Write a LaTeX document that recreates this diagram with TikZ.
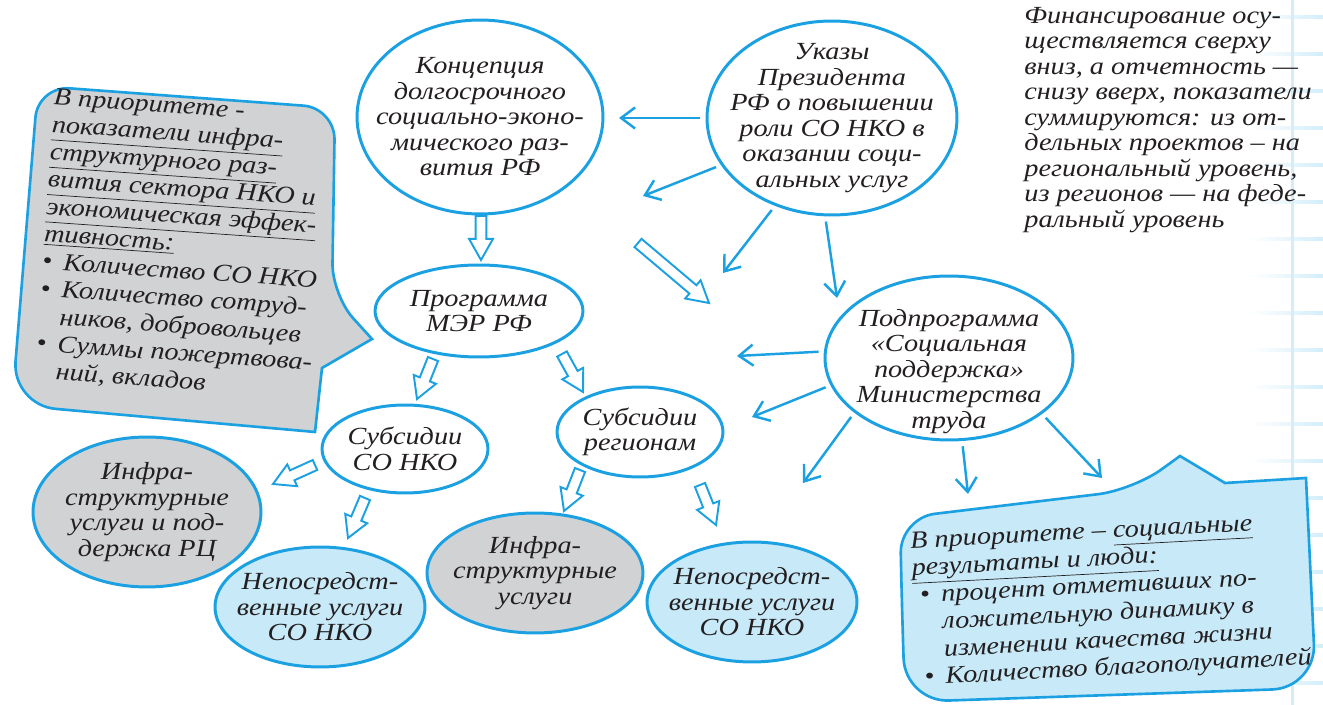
\documentclass[tikz,border=0pt]{standalone}
\usepackage{fontspec}
\setmainfont{Liberation Serif}[FakeStretch=1.15]
\usetikzlibrary{arrows.meta, shapes.geometric, calc}
\definecolor{linecyan}{HTML}{1BA1E2}
\definecolor{gridcyan}{HTML}{D3EEFA}
\definecolor{bubblegrey}{HTML}{D1D2D4}
\definecolor{bubbleblue}{HTML}{C8E9F8}
\definecolor{inkblack}{HTML}{231F20}
\newcommand\bulletrow{\makebox[12pt][l]{\textbullet}}
\newcommand\bulletgap{\hspace*{12pt}}
\newcommand\hollowarrow[2]{%
    \draw[blockarrow] ($(#1)!3.1pt!90:(#2)$)
        -- ($(#2)!12pt!(#1)!3.1pt!-90:(#1)$) -- ($(#2)!12pt!(#1)!6.8pt!-90:(#1)$)
        -- (#2)
        -- ($(#2)!12pt!(#1)!6.8pt!90:(#1)$) -- ($(#2)!12pt!(#1)!3.1pt!90:(#1)$)
        -- ($(#1)!3.1pt!-90:(#2)$) -- cycle;}
\tikzset{
    >={Straight Barb[length=8pt, width=12pt]},
    hand/.style={font=\itshape\fontsize{14}{14.5}\selectfont, text=inkblack},
    bubble/.style={hand, ellipse, draw=linecyan, line width=1.7pt, fill=white, inner sep=-3cm, align=center},
    greybubble/.style={bubble, fill=bubblegrey},
    bluebubble/.style={bubble, fill=bubbleblue},
    feed/.style={linecyan, line width=1.4pt, ->, shorten <=3pt},
    blockarrow/.style={draw=linecyan, line width=1.1pt, fill=white, line join=miter},
    callout/.style={draw=linecyan, line width=1.5pt},
    note/.style={hand, align=left, inner sep=0pt},
    calloutnote/.style={note, font=\itshape\fontsize{14}{15.6}\selectfont},
}

\begin{document}
\begin{tikzpicture}[x=0.02cm, y=-0.02cm]
    \useasboundingbox (0,0) rectangle (1323,705);
    % squared paper at the right edge
    \foreach \y in {17,54,...,705}
        \shade[left color=white, right color=gridcyan] (1250,\y-1.3) rectangle (1323,\y+1.3);
    \fill[gridcyan] (1290.5,0) rectangle (1293.5,705);

    % speech bubbles
    \draw[callout, fill=bubblegrey] (25,245) [rounded corners=18pt] -- (38,86) -- (335,108) -- (332,295)
        [sharp corners] -- (372,339) -- (322,368) -- (315,432) [rounded corners=25pt] -- (12,405) -- cycle;
    \draw[callout, fill=bubbleblue] (902,610) [rounded corners=20pt] -- (900,518) -- (1133,490)
        [sharp corners] -- (1180,456) -- (1225,483) -- (1306,478) [rounded corners=25pt] -- (1316,688) -- (905,702) -- cycle;

    \node[calloutnote, rotate=-4] (leftnote) at (182,245) {В приоритете -\\
        \underline{показатели инфра-}\\ \underline{структурного раз-}\\ \underline{вития сектора НКО и}\\
        \underline{экономическая эффек-}\\ \underline{тивность:}\\
        \bulletrow Количество СО НКО\\
        \bulletrow Количество сотруд-\\ \bulletgap ников, добровольцев\\
        \bulletrow Суммы пожертвова-\\ \bulletgap ний, вкладов};
    \node[calloutnote, rotate=3] (rightnote) at (1111,601) {В приоритете – \underline{социальные}\\
        \underline{результаты и люди:}\\
        \hspace*{4pt}\bulletrow процент отметивших по-\\ \hspace*{4pt}\bulletgap ложительную динамику в\\
        \hspace*{4pt}\bulletgap изменении качества жизни\\
        \hspace*{4pt}\bulletrow Количество благополучателей};
    \node[note, anchor=north west] (money) at (1024,7) {Финансирование осу-\\ществляется сверху\\
        вниз, а отчетность —\\снизу вверх, показатели\\суммируются: из от-\\дельных проектов – на\\
        региональный уровень,\\из регионов — на феде-\\ральный уровень};

    % ellipses
    \node[bubble, minimum width=4.92cm, minimum height=3.88cm] (konc) at (480,117)
        {Концепция\\долгосрочного\\социально-эконо-\\мического раз-\\вития РФ};
    \node[bubble, minimum width=5.0cm, minimum height=3.88cm] (ukaz) at (832,118)
        {Указы\\Президента\\РФ о повышении\\роли СО НКО в\\оказании соци-\\альных услуг};
    \node[bubble, minimum width=4.16cm, minimum height=1.84cm] (prog) at (479,311) {Программа\\МЭР РФ};
    \node[bubble, minimum width=4.96cm, minimum height=3.28cm] (podp) at (949,358)
        {\raisebox{-8pt}[\height][\depth]{\begin{tabular}{@{}c@{}}Подпрограмма\\«Социальная\\поддержка»\\Министерства\\труда\end{tabular}}};
    \node[bubble, minimum width=3.32cm, minimum height=1.76cm] (subnko) at (405,449) {Субсидии\\СО НКО};
    \node[bubble, minimum width=3.32cm, minimum height=1.8cm] (subreg) at (640,432) {Субсидии\\регионам};
    \node[greybubble, minimum width=4.56cm, minimum height=3.0cm] (infrarc) at (147,512)
        {Инфра-\\структурные\\услуги и под-\\держка РЦ};
    \node[bluebubble, minimum width=4.2cm, minimum height=2.4cm] (directnko) at (320,607)
        {Непосредст-\\венные услуги\\СО НКО};
    \node[greybubble, minimum width=4.32cm, minimum height=2.4cm] (infra) at (535,573)
        {Инфра-\\структурные\\услуги};
    \node[bluebubble, minimum width=4.2cm, minimum height=2.4cm] (directreg) at (752,602)
        {Непосредст-\\венные услуги\\СО НКО};

    % free ends of the arrows
    \coordinate (t1) at (619,118);
    \coordinate (t2) at (643,196);
    \coordinate (t3) at (723,273);
    \coordinate (t4) at (837,298);
    \coordinate (t5) at (737,356);
    \coordinate (t6) at (752,417);
    \coordinate (t7) at (803,483);
    \coordinate (t8) at (968,494);
    \coordinate (t9) at (1102,478);
    \foreach \s/\t in {ukaz.180/t1, ukaz.203/t2, ukaz.237/t3, ukaz.266/t4,
        podp.177/t5, podp.193/t6, podp.210/t7, podp.279/t8, podp.329/t9}
        \draw[feed] (\s) -- (\t);

    % hollow arrows
    \coordinate (k1s) at (481,216); \coordinate (k1e) at (481,260);
    \coordinate (k2s) at (638,243); \coordinate (k2e) at (709,303);
    \coordinate (p1s) at (433,359); \coordinate (p1e) at (417,399);
    \coordinate (p2s) at (562,354); \coordinate (p2e) at (583,392);
    \coordinate (s1s) at (315,465); \coordinate (s1e) at (273,484);
    \coordinate (s2s) at (365,498); \coordinate (s2e) at (348,538);
    \coordinate (r1s) at (580,470); \coordinate (r1e) at (564,511);
    \coordinate (r2s) at (700,485); \coordinate (r2e) at (716,525);
    \foreach \a in {k1,k2,p1,p2,s1,s2,r1,r2}
        \hollowarrow{\a s}{\a e};
\end{tikzpicture}
\end{document}
